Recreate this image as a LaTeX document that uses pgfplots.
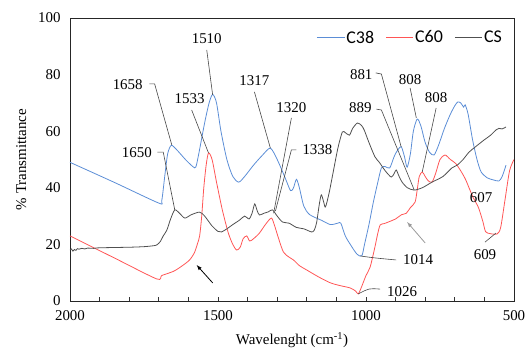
\documentclass[border=0pt]{standalone}
\usepackage{fontspec}
\setmainfont{Liberation Serif}
\newfontfamily\tnr{Liberation Serif}
\newfontfamily\carlito{Carlito}
\usepackage{pgfplots}
\pgfplotsset{compat=1.18}
\definecolor{cblue}{RGB}{91,141,214}
\definecolor{cred}{RGB}{255,85,85}
\definecolor{cgray}{RGB}{80,80,80}
\definecolor{lead}{RGB}{70,70,70}
\newcommand{\tf}{\tnr\fontsize{15}{17}\selectfont}
\begin{document}
\begin{tikzpicture}
\begin{axis}[
  name=ax,
  scale only axis,
  width=444bp, height=283bp,
  x dir=reverse,
  xmin=500, xmax=2000, ymin=0, ymax=100,
  xtick={500,1000,1500,2000},
  xticklabels={{\tf 500},{\tf 1000},{\tf 1500},{\tf 2000}},
  minor x tick num=4,
  ytick={0,20,40,60,80,100},
  yticklabels={{\tf 0},{\tf 20},{\tf 40},{\tf 60},{\tf 80},{\tf 100}},
  tick align=inside,
  xtick pos=bottom,
  ytick style={draw=none},
  major tick length=4bp, minor tick length=4bp,
  every tick/.style={black!80, line width=0.6pt},
  tick label style={font=\tf},
  xticklabel style={yshift=-6bp},
  yticklabel style={xshift=-6bp},
  axis line style={draw=black!85, line width=0.8pt},
  xlabel={\tf Wavelenght (cm\textsuperscript{-1})},
  ylabel={\tf \% Transmittance},
  every axis x label/.style={at={(axis description cs:0.5,-0.138)}, anchor=center, font=\tf},
  every axis y label/.style={at={(axis description cs:-0.11,0.5)}, rotate=90, anchor=center, font=\tf},
  every axis plot/.append style={line width=0.8pt, smooth, tension=0.45},
]
\addplot[color=cblue] coordinates {
(2000,49)(1850,41.9)(1700,34.6)(1690,35.5)(1680,44)(1670,52)(1658,55)(1640,53.5)(1610,50)(1585,47.5)(1575,47.3)(1565,52)(1545,63)(1530,70)(1518,73)(1505,70)(1490,60)(1470,50)(1450,44)(1430,42)(1410,44)(1380,48)(1350,51.5)(1323,54)(1300,50)(1275,44)(1255,39)(1245,40)(1235,43)(1225,40)(1210,33.5)(1190,30.5)(1150,28.5)(1120,27)(1095,27.5)(1085,27.5)(1070,23)(1050,19.5)(1030,16.5)(1014,16)(1005,20)(990,27)(975,35)(960,42)(948,47)(935,47.5)(920,47)(905,51)(895,53)(881,54.5)(870,51)(861,47.3)(850,52)(840,60)(827,64.3)(815,62)(800,56)(785,52.5)(770,51.6)(755,55)(735,61)(715,66)(700,69)(690,70.3)(680,70)(670,68.5)(665,69.3)(655,66)(640,57)(625,50)(611,45.6)(590,43.5)(570,42.8)(551,42.4)(540,44)(527,48)
};
\addplot[color=cred] coordinates {
(2000,23)(1850,15.2)(1707,7.8)(1690,9)(1650,10.5)(1620,12.5)(1596,14.5)(1580,17)(1570,20)(1562,23)(1555,30)(1548,40)(1540,48)(1532,52.3)(1520,50)(1505,42)(1485,32)(1465,24)(1450,20)(1437,18)(1425,19)(1415,22)(1403,23)(1393,21.2)(1380,22)(1360,24)(1340,27)(1320,29.3)(1310,27)(1295,22)(1279,17.3)(1260,15.5)(1245,14.5)(1225,12.5)(1201,11)(1160,8.5)(1120,6.4)(1090,5.5)(1053,4.6)(1035,3.5)(1026,2.5)(1015,5)(1000,9)(986,12)(970,19)(960,24)(952,26.9)(940,27.3)(932,27.6)(900,29)(880,30.5)(864,31)(850,33)(834,35)(826,40)(820,44)(810,45.6)(800,44)(790,42.5)(777,42)(765,45)(750,50)(733,51.6)(715,50)(697,48.6)(680,46)(663,42.8)(640,37)(620,33)(605,28)(596,24.5)(580,23.8)(557,23.7)(545,26)(530,36)(515,46)(500,50)
};
\addplot[color=cgray] coordinates {
(2000,18.0)(1995,18.4)(1990,17.6)(1985,18.2)(1980,17.9)(1975,18.5)(1970,18.3)(1960,18.6)(1950,18.4)(1940,18.7)(1920,18.6)(1900,18.8)(1800,19)(1750,19.2)(1720,19.5)(1707,19.8)(1695,21)(1685,23)(1673,25)(1660,29)(1646,32.2)(1630,31)(1612,29.3)(1590,30.5)(1562,31.4)(1545,30)(1520,26.5)(1500,24.6)(1488,24.4)(1470,25.5)(1450,27)(1427,28.6)(1410,30)(1395,29)(1385,31)(1376,34.3)(1368,32)(1360,30.4)(1345,31)(1330,31.5)(1316,32.2)(1300,30)(1282,27.9)(1260,27.5)(1235,26)(1210,25.5)(1184,24.4)(1175,25)(1167,27.6)(1158,34)(1151,37.5)(1143,35)(1137,33.2)(1125,38)(1110,46)(1095,54)(1080,59.7)(1070,59.5)(1056,58.6)(1045,61)(1029,62.9)(1015,62)(1006,60.4)(990,56)(970,51)(955,49)(935,46)(915,43.8)(905,45)(898,46.3)(888,44)(878,42)(860,40)(837,39.2)(810,40)(777,42)(740,44)(710,47)(692,48)(672,50)(652,52.6)(630,54.5)(601,56.9)(580,58.5)(560,60.5)(551,61)(540,60.8)(527,61.5)
};
% legend (drawn by hand)
\draw[cblue, line width=0.9pt] (axis description cs:0.556,0.933) -- (axis description cs:0.619,0.933);
\node[anchor=west, inner sep=0pt, font=\carlito\fontsize{18}{20}\selectfont] at (axis description cs:0.622,0.933) {C38};
\draw[cred, line width=0.9pt] (axis description cs:0.712,0.933) -- (axis description cs:0.773,0.933);
\node[anchor=west, inner sep=0pt, font=\carlito\fontsize{18}{20}\selectfont] at (axis description cs:0.777,0.933) {C60};
\draw[cgray, line width=0.9pt] (axis description cs:0.867,0.933) -- (axis description cs:0.928,0.933);
\node[anchor=west, inner sep=0pt, font=\carlito\fontsize{18}{20}\selectfont] at (axis description cs:0.932,0.933) {CS};
% annotations
\begin{scope}[every node/.style={font=\tf, inner sep=0pt}]
\draw[lead, line width=0.6pt] (axis cs:1538,88.7) -- (axis cs:1518,72.8);
\node at (axis cs:1538,92.6) {1510};
\draw[lead, line width=0.6pt] (axis cs:1732,76.7) -- (axis cs:1714,76.7) -- (axis cs:1656,55.1);
\node at (axis cs:1805,76.3) {1658};
\draw[lead, line width=0.6pt] (axis cs:1589,67.5) -- (axis cs:1532,52.3);
\node at (axis cs:1596,71.4) {1533};
\draw[lead, line width=0.6pt] (axis cs:1705,52.6) -- (axis cs:1685,52.6) -- (axis cs:1646,32.2);
\node at (axis cs:1774,52.3) {1650};
\draw[lead, line width=0.6pt] (axis cs:1377,73.9) -- (axis cs:1323,54);
\node at (axis cs:1377,78) {1317};
\draw[lead, line width=0.6pt] (axis cs:1252,64.7) -- (axis cs:1312,31);
\node at (axis cs:1252,68.4) {1320};
\draw[lead, line width=0.6pt] (axis cs:1235,53.4) -- (axis cs:1252,53.4) -- (axis cs:1306,31.8);
\node at (axis cs:1164,53.4) {1338};
\draw[lead, line width=0.6pt] (axis cs:967,80.6) -- (axis cs:948,80.2) -- (axis cs:881,54.4);
\node at (axis cs:1016,79.9) {881};
\draw[lead, line width=0.6pt] (axis cs:851,75.3) -- (axis cs:830,64.7);
\node at (axis cs:851,78.4) {808};
\draw[lead, line width=0.6pt] (axis cs:763,68.2) -- (axis cs:810,45.6);
\node at (axis cs:763,71.7) {808};
\draw[lead, line width=0.6pt] (axis cs:965,67.8) -- (axis cs:948,67.5) -- (axis cs:837,39.2);
\node at (axis cs:1019,68.2) {889};
\node at (axis cs:611,36.4) {607};
\draw[lead, line width=0.6pt] (axis cs:598,20.8) -- (axis cs:561,24);
\node at (axis cs:598,16.3) {609};
\draw[lead, line width=0.6pt] (axis cs:1019,15.9) .. controls (axis cs:970,15.2) .. (axis cs:898,14.5);
\node at (axis cs:824,14.5) {1014};
\draw[lead, line width=0.6pt] (axis cs:1026,2.5) .. controls (axis cs:990,4.5) .. (axis cs:952,4.2);
\node at (axis cs:878,3.2) {1026};
\end{scope}
\draw[-latex, black, line width=0.8pt] (axis cs:1518,6.4) -- (axis cs:1572,12.7);
\draw[-latex, black!40, line width=0.8pt] (axis cs:800,20.5) -- (axis cs:861,27.9);
\end{axis}
\pgfresetboundingbox
\path[use as bounding box] (ax.south west) ++(-70bp,-51bp) rectangle ([shift={(14bp,18bp)}]ax.north east);
\end{tikzpicture}
\end{document}
